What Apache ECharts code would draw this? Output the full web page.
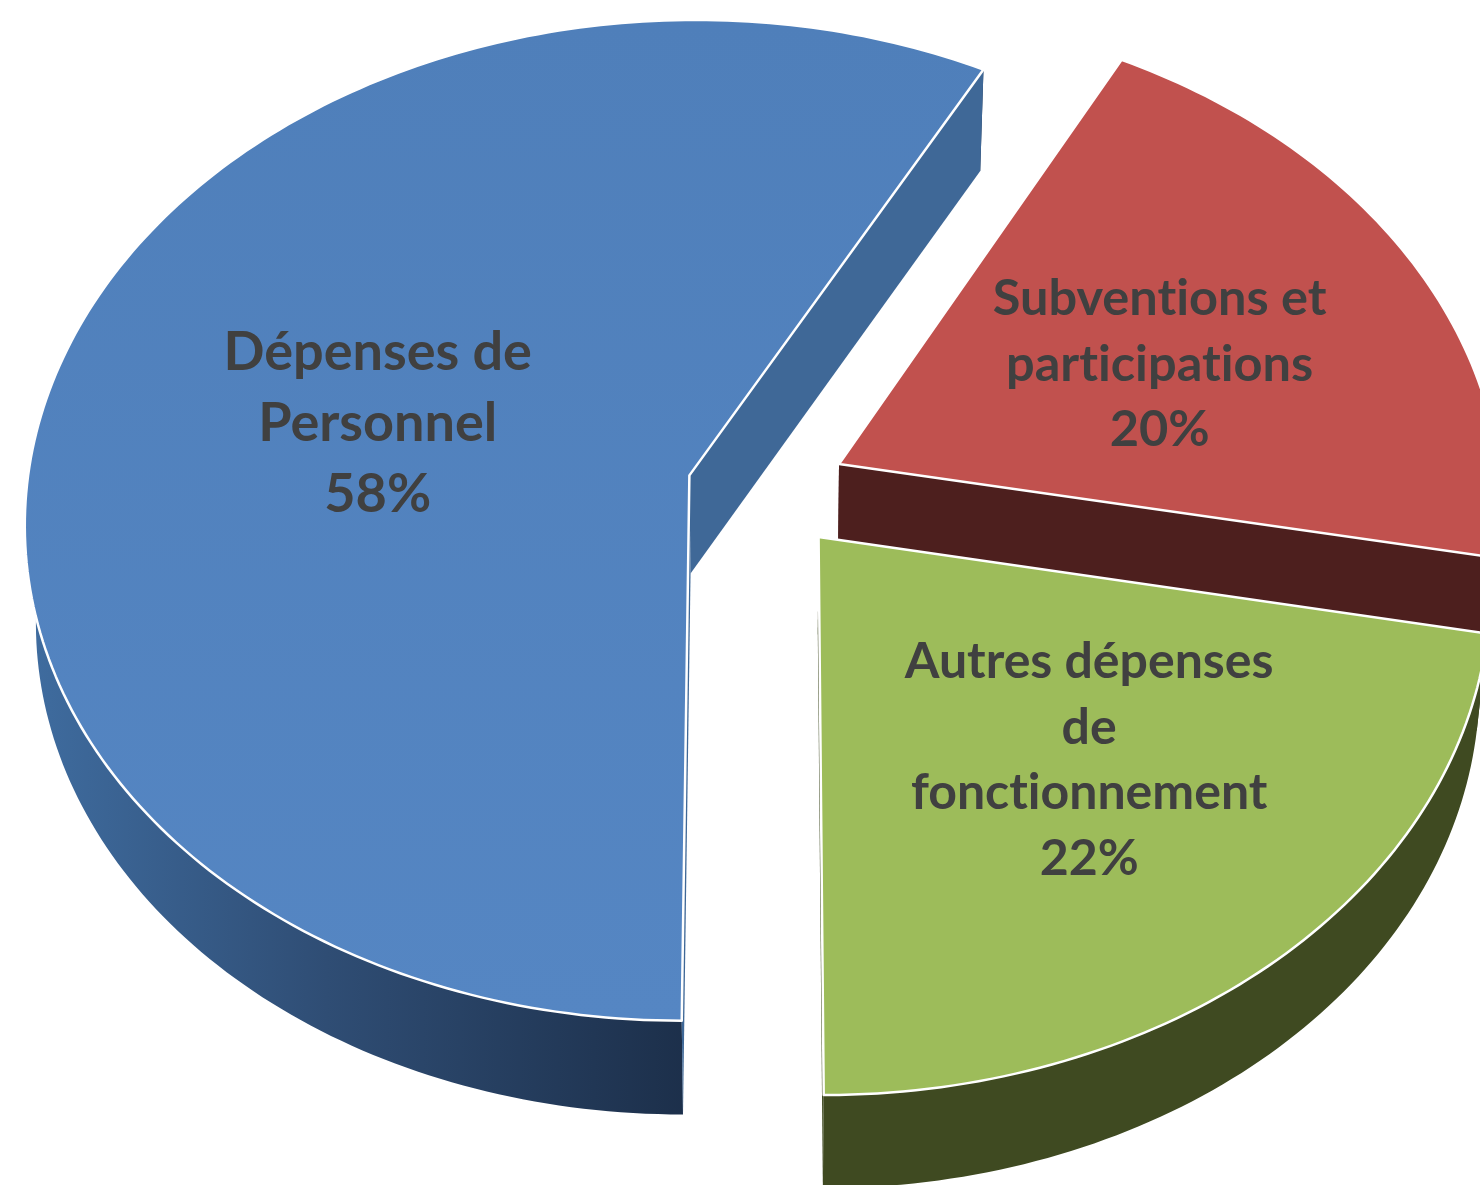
<!DOCTYPE html>
<html lang="fr">
<head>
<meta charset="utf-8">
<title>Dépenses</title>
<script src="https://cdn.jsdelivr.net/npm/echarts@6/dist/echarts.min.js"></script>
<style>
  html, body { margin: 0; padding: 0; background: #fff; }
  #chart { width: 1480px; height: 1185px; overflow: hidden; }
</style>
</head>
<body>
<div id="chart"></div>
<script>
// 1. Data (labels show the rounded value)
const categories = ['Dépenses de\nPersonnel', 'Subventions et\nparticipations', 'Autres dépenses\nde\nfonctionnement'];
const values = [57.8, 20.2, 22];

// 2. Colours
const topColors = [
    { type: 'linear', x: 0, y: 20, x2: 0, y2: 1020, global: true,
      colorStops: [{ offset: 0, color: '#4f7fba' }, { offset: 1, color: '#5586c3' }] },
    '#c1514e',
    '#9dbc5a'
];
const sideColors = ['#3f6897', '#4d1f1e', '#3f4a21'];
const rimColors = [
    { type: 'linear', x: 30, y: 0, x2: 690, y2: 0, global: true,
      colorStops: [{ offset: 0, color: '#3f6c9f' }, { offset: 0.45, color: '#2f4d74' }, { offset: 1, color: '#1c2f4a' }] },
    '#4d1f1e',
    '#3f4a21'
];

// 3. Layout of the fake 3D pie
const START_ANGLE = 180;
const CX = 767, CY = 490;
const RX = 663, RY = 499;
const PERSPECTIVE = 0.09;
const EXPLODE = 0.121;
const DEPTH = 98;
const BOTTOM_SCALE_X = 0.985;
const BOTTOM_SCALE_Y = 0.992;
const labelRadius = [0.47, 0.535, 0.62];
const labelNudge = [[-14, 4], [10, 12], [-8, -30]];
const labelSize = [54, 50.5, 50];
const labelLine = [71, 65.5, 65.5];

const total = values.reduce((a, b) => a + b, 0);

// plane coordinates (v right, u towards the viewer) to pixels
function project(v, u, bottom) {
    const w = 1 - PERSPECTIVE * u;
    return [
        CX + RX * (bottom ? BOTTOM_SCALE_X : 1) * v / w,
        CY + RY * (bottom ? BOTTOM_SCALE_Y : 1) * u / w + (bottom ? DEPTH : 0)
    ];
}

function slicePoint(mid, ang, r, bottom) {
    const m = mid * Math.PI / 180, a = ang * Math.PI / 180;
    const v = EXPLODE * Math.sin(m) + r * Math.sin(a);
    const u = -EXPLODE * Math.cos(m) - r * Math.cos(a);
    return project(v, u, bottom);
}

function renderSlice(params, api) {
    const i = params.dataIndex;
    let before = 0;
    for (let k = 0; k < i; k++) before += values[k];
    const a0 = START_ANGLE + before / total * 360;
    const a1 = a0 + api.value(1) / total * 360;
    const mid = (a0 + a1) / 2;

    const arcTop = [], arcBottom = [];
    for (let a = a0; a < a1; a += 1) {
        arcTop.push(slicePoint(mid, a, 1, false));
        arcBottom.push(slicePoint(mid, a, 1, true));
    }
    arcTop.push(slicePoint(mid, a1, 1, false));
    arcBottom.push(slicePoint(mid, a1, 1, true));

    const apexTop = slicePoint(mid, 0, 0, false);
    const apexBottom = slicePoint(mid, 0, 0, true);
    const last = arcTop.length - 1;
    const lp = slicePoint(mid, mid, labelRadius[i], false);

    return {
        type: 'group',
        children: [
            { type: 'polygon', shape: { points: arcTop.concat(arcBottom.slice().reverse()) },
              style: { fill: rimColors[i] } },
            { type: 'polygon', shape: { points: [apexTop, arcTop[0], arcBottom[0], apexBottom] },
              style: { fill: sideColors[i] } },
            { type: 'polygon', shape: { points: [apexTop, arcTop[last], arcBottom[last], apexBottom] },
              style: { fill: sideColors[i] } },
            { type: 'polygon', shape: { points: [apexTop].concat(arcTop) },
              style: { fill: topColors[i], stroke: '#fff', lineWidth: 2.5, lineJoin: 'round' } },
            { type: 'text', x: lp[0] + labelNudge[i][0], y: lp[1] + labelNudge[i][1],
              style: {
                  text: categories[i] + '\n' + Math.round(api.value(1)) + '%',
                  fill: '#404040',
                  font: 'bold ' + labelSize[i] + 'px Lato',
                  lineHeight: labelLine[i],
                  align: 'center',
                  verticalAlign: 'middle'
              } }
        ]
    };
}

// 4. Chart
const chart = echarts.init(document.getElementById('chart'));
const option = {
    animation: false,
    backgroundColor: '#fff',
    series: [{
        type: 'custom',
        coordinateSystem: 'none',
        silent: true,
        clip: false,
        renderItem: renderSlice,
        data: values.map((v, i) => [i, v])
    }]
};
chart.setOption(option);

// Lato has a "ti" ligature the original font does not: switch it off and redraw
chart.getZr().painter.getLayers && Object.values(chart.getZr().painter.getLayers()).forEach(layer => {
    if (layer.ctx) layer.ctx.textRendering = 'optimizeSpeed';
});
chart.setOption(option, true);
</script>
</body>
</html>
